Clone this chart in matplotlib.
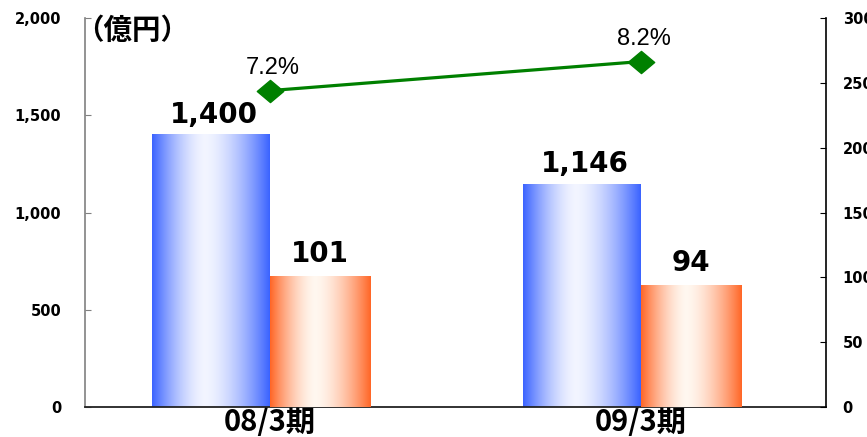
import matplotlib.pyplot as plt
import numpy as np
from matplotlib.path import Path

# 売上高・経常利益・利益率
categories = ['08/3期', '09/3期']
sales = [1400, 1146]        # 左軸（億円）
profit = [101, 94]          # 右軸（億円）
margin = [7.2, 8.2]         # 利益率（%）

plt.rcParams['font.family'] = ['DejaVu Sans', 'Noto Sans CJK JP']

fig = plt.figure(figsize=(8.67, 4.37), dpi=100)
ax = fig.add_axes([0.098, 0.0686, 0.8547, 0.8902])
ax2 = ax.twinx()
ax3 = ax.twinx()

x = np.arange(len(categories))
w_blue = 0.318
w_orange = 0.27


def gradient(edge, center, n=200, peak=0.45):
    t = np.linspace(0, 1, n)
    d = np.where(t < peak, (peak - t) / peak, (t - peak) / (1 - peak))
    w = 1 - d ** 1.6
    edge = np.array(edge)
    center = np.array(center)
    cols = edge[None, :] * (1 - w[:, None]) + center[None, :] * w[:, None]
    return cols[None, :, :]


blue_img = gradient((0.23, 0.39, 1.0), (0.95, 0.96, 1.0))
orange_img = gradient((1.0, 0.40, 0.15), (1.0, 0.97, 0.94))

# 売上高（青のグラデーション）
for xi, v in zip(x, sales):
    ax.imshow(blue_img, extent=[xi - w_blue, xi, 0, v], aspect='auto',
              interpolation='bilinear', zorder=2)
    ax.annotate(f'{v:,}', (xi - w_blue / 2, v), xytext=(3, 12),
                textcoords='offset pixels', ha='center', va='baseline',
                fontsize=20, fontweight='bold')

# 経常利益（オレンジのグラデーション、右軸）
for xi, v in zip(x, profit):
    ax2.imshow(orange_img, extent=[xi, xi + w_orange, 0, v], aspect='auto',
               interpolation='bilinear', zorder=2)
    ax2.annotate(f'{v:,}', (xi + w_orange / 2, v), xytext=(0, 14),
                 textcoords='offset pixels', ha='center', va='baseline',
                 fontsize=20, fontweight='bold')

# 利益率（折れ線）
diamond = Path([(-0.5, 0), (0, 0.42), (0.5, 0), (0, -0.42), (-0.5, 0)],
               [Path.MOVETO, Path.LINETO, Path.LINETO, Path.LINETO, Path.CLOSEPOLY])
ax3.plot(x, margin, color='#008000', linewidth=2.3, marker=diamond,
         markersize=19, zorder=5)
for xi, m in zip(x, margin):
    ax3.annotate(f'{m}%', (xi, m), xytext=(3, 17), textcoords='offset pixels',
                 ha='center', va='baseline', fontsize=17,
                 family='Liberation Sans')

ax.set_xlim(-0.5, 1.5)
ax2.set_xlim(-0.5, 1.5)
ax3.set_xlim(-0.5, 1.5)
ax.set_ylim(0, 2000)
ax2.set_ylim(0, 300)
ax3.set_ylim(-3.7, 9.7)
ax3.axis('off')

ax.set_yticks(np.arange(0, 2001, 500))
ax.set_yticklabels([f'{v:,}' for v in range(0, 2001, 500)],
                   fontsize=10.5, fontweight='bold')
ax2.set_yticks(np.arange(0, 301, 50))
ax2.set_yticklabels([str(v) for v in range(0, 301, 50)],
                    fontsize=10.5, fontweight='bold')
ax.tick_params(axis='y', direction='in', length=4, pad=17, color='#808080')
ax2.tick_params(axis='y', direction='in', length=4, pad=12)

ax.set_xticks(x)
ax.set_xticklabels(categories, family=['Noto Sans CJK JP'], fontsize=21,
                   fontweight='bold')
ax.tick_params(axis='x', length=0, pad=0)

for a in (ax, ax2):
    a.spines['top'].set_visible(False)
    a.set_facecolor('none')
ax.spines['left'].set_color('#808080')
ax.spines['left'].set_linewidth(1.2)
ax.spines['right'].set_visible(False)
ax.spines['bottom'].set_color('#222222')
ax.spines['bottom'].set_linewidth(1.3)
ax2.spines['left'].set_visible(False)
ax2.spines['bottom'].set_visible(False)
ax2.spines['right'].set_linewidth(1.2)

# 単位表示
fig.text(75 / 867, 1 - 31 / 437, '（億円）', family=['Noto Sans CJK JP'],
         fontsize=20.5, fontweight='bold', ha='left', va='center')

fig.savefig('out.png', dpi=100)
